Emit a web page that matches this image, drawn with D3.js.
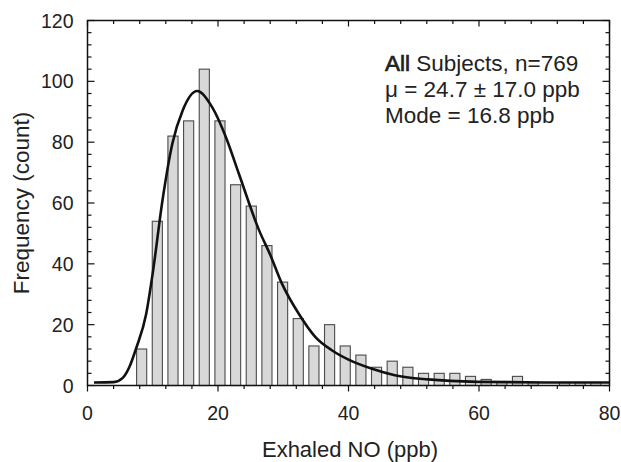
<!DOCTYPE html>
<html>
<head>
<meta charset="utf-8">
<script src="https://cdn.jsdelivr.net/npm/d3@7"></script>
<style>
  body { margin: 0; background: #fff; }
  svg text { font-family: "Liberation Sans", Arial, sans-serif; fill: #222; }
</style>
</head>
<body>
<svg id="chart" width="621" height="462"></svg>
<script>
// Histogram bins (center of each 2.4 ppb bin) and counts
const binCenters = [8.3, 10.7, 13.1, 15.5, 17.9, 20.3, 22.7, 25.1, 27.5, 29.9,
  32.3, 34.7, 37.1, 39.5, 41.9, 44.3, 46.7, 49.1, 51.5, 53.9,
  56.3, 58.7, 61.1, 63.5, 65.9, 68.3, 70.7, 73.1, 75.5, 77.9];
const counts = [12, 54, 82, 87, 104, 87, 66, 59, 46, 34,
  22, 13, 20, 13, 10, 6, 8, 6, 4, 4,
  4, 3, 2, 1, 3, 1, 0, 1, 1, 1];

// Fitted curve
const fitX = [1, 4, 5.4, 6.4, 7.5, 9, 10, 11.5, 13, 14.6, 16.8, 19.1, 21.2, 23.2,
  26.3, 28, 29.8, 32.4, 34.9, 37.5, 40, 43.6, 47.1, 52.2, 59.8, 70, 80];
const fitY = [1, 1.1, 2.5, 6, 12.5, 23.6, 37, 61, 79.5, 90.5, 96.8, 91.5, 81.7, 69.6,
  51, 43, 33.5, 23.5, 16, 11.5, 8.5, 5.5, 3.4, 2, 1.2, 1, 1];

const xTicks = [0, 20, 40, 60, 80];
const yTicks = [0, 20, 40, 60, 80, 100, 120];
const annotation = ['Subjects, n=769', 'μ = 24.7 ± 17.0 ppb', 'Mode = 16.8 ppb'];

const barW = 1.55; // drawn bar width in ppb

const margin = { left: 87.5, right: 11.5, top: 20.5, bottom: 76.5 };
const width = 621, height = 462;
const svg = d3.select('#chart');

const x = d3.scaleLinear().domain([0, 80]).range([margin.left, width - margin.right]);
const y = d3.scaleLinear().domain([0, 120]).range([height - margin.bottom, margin.top]);

// Bars
const bins = binCenters.map((c, i) => ({ c, n: counts[i] })).filter(d => d.n > 0);
svg.append('g')
  .selectAll('rect')
  .data(bins)
  .join('rect')
  .attr('x', d => x(d.c - barW / 2))
  .attr('y', d => y(d.n))
  .attr('width', x(barW) - x(0))
  .attr('height', d => y(0) - y(d.n))
  .attr('fill', '#d8d8d8')
  .attr('stroke', '#4a4a4a')
  .attr('stroke-width', 1.1);

// Fit curve
const line = d3.line()
  .x(d => x(d[0]))
  .y(d => y(d[1]))
  .curve(d3.curveMonotoneX);

svg.append('path')
  .datum(fitX.map((v, i) => [v, fitY[i]]))
  .attr('d', line)
  .attr('fill', 'none')
  .attr('stroke', '#111')
  .attr('stroke-width', 2.6);

// Minor/major ticks on all four sides
const xMinor = d3.range(0, 81, 4);
const yMinor = d3.range(0, 121, 4);
const ticks = svg.append('g').attr('stroke', '#111').attr('stroke-width', 1.2);

xMinor.forEach(v => {
  const len = v % 20 === 0 ? 6 : 3.5;
  // bottom (outward)
  ticks.append('line').attr('x1', x(v)).attr('x2', x(v))
    .attr('y1', y(0)).attr('y2', y(0) + len);
  // top (inward)
  ticks.append('line').attr('x1', x(v)).attr('x2', x(v))
    .attr('y1', y(120)).attr('y2', y(120) + len);
});

yMinor.forEach(v => {
  const len = v % 20 === 0 ? 7 : 4;
  ticks.append('line').attr('x1', x(0)).attr('x2', x(0) + len)
    .attr('y1', y(v)).attr('y2', y(v));
  ticks.append('line').attr('x1', x(80)).attr('x2', x(80) - len)
    .attr('y1', y(v)).attr('y2', y(v));
});

// Frame
svg.append('rect')
  .attr('x', x(0)).attr('y', y(120))
  .attr('width', x(80) - x(0)).attr('height', y(0) - y(120))
  .attr('fill', 'none').attr('stroke', '#111').attr('stroke-width', 1.5);

// Tick labels
svg.append('g').selectAll('text')
  .data(xTicks)
  .join('text')
  .attr('x', d => x(d))
  .attr('y', y(0) + 34)
  .attr('text-anchor', 'middle')
  .attr('font-size', 19.5)
  .text(d => d);

svg.append('g').selectAll('text')
  .data(yTicks)
  .join('text')
  .attr('x', x(0) - 14)
  .attr('y', d => y(d) + 7)
  .attr('text-anchor', 'end')
  .attr('font-size', 19.5)
  .text(d => d);

// Axis titles
svg.append('text')
  .attr('x', 350).attr('y', 457)
  .attr('text-anchor', 'middle')
  .attr('font-size', 22)
  .text('Exhaled NO (ppb)');

svg.append('text')
  .attr('transform', `translate(29,${(y(0) + y(120)) / 2}) rotate(-90)`)
  .attr('text-anchor', 'middle')
  .attr('font-size', 22.5)
  .text('Frequency (count)');

// Annotation
const ann = svg.append('g').attr('font-size', 22.5);
annotation.forEach((t, i) => {
  const txt = ann.append('text').attr('x', 385).attr('y', 71 + i * 26);
  if (i === 0) {
    txt.append('tspan').attr('stroke', '#222').attr('stroke-width', 0.7).text('All');
    txt.append('tspan').text(' ');
  }
  txt.append('tspan').text(t);
});
</script>
</body>
</html>
